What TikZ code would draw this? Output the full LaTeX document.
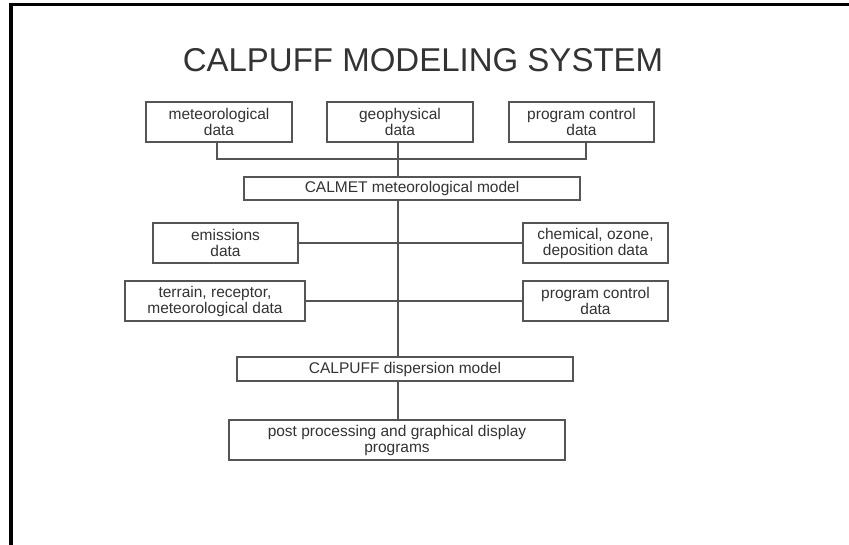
\documentclass[tikz,border=0pt]{standalone}
\usepackage{fontspec}
\setmainfont{Liberation Sans}
\definecolor{txt}{HTML}{333333}
\definecolor{edge}{HTML}{555555}
\begin{document}
\begin{tikzpicture}[x=1pt,y=-1pt,
  box/.style={draw=edge,fill=white,line width=1.3pt,text=txt,align=center,inner sep=0pt,
    font=\fontsize{15.5}{16}\selectfont},
  link/.style={draw=edge,line width=1.3pt}]
\useasboundingbox (0,0) rectangle (849,545);
\fill[white] (0,0) rectangle (849,545);
\draw[line width=3.6pt] (11,545) -- (11,4.6) -- (849,4.6);
\node[text=txt,font=\fontsize{33}{38}\selectfont] (title) at (423,60) {CALPUFF MODELING SYSTEM};
\node[box,minimum width=146pt,minimum height=40pt] (met) at (219,122) {meteorological\\data};
\node[box,minimum width=146pt,minimum height=40pt] (geo) at (400,122) {geophysical\\data};
\node[box,minimum width=145pt,minimum height=40pt] (pc) at (581.5,122) {program control\\data};
\node[box,minimum width=336pt,minimum height=23pt] (calmet) at (412,188.5) {CALMET meteorological model};
\node[box,minimum width=145pt,minimum height=40pt] (emi) at (225.5,243) {emissions\\data};
\node[box,minimum width=145pt,minimum height=40pt] (chem) at (595.5,243) {chemical, ozone,\\deposition data};
\node[box,minimum width=180pt,minimum height=40pt] (ter) at (215,301) {terrain, receptor,\\meteorological data};
\node[box,minimum width=145pt,minimum height=40pt] (pc2) at (595.5,301) {program control\\data};
\node[box,minimum width=336pt,minimum height=24pt] (calpuff) at (405,369) {CALPUFF dispersion model};
\node[box,minimum width=336pt,minimum height=40pt] (post) at (397,440) {post processing and graphical display\\programs};
\coordinate (hl) at (217,159);
\coordinate (hr) at (586,159);
\coordinate (hm) at (398,159);
\draw[link] (met.south -| hl) -- (hl) -- (hr) -- (pc.south -| hr);
\draw[link] (geo.south -| hm) -- (hm) -- (calmet.north -| hm);
\draw[link] (calmet.south -| hm) -- (calpuff.north -| hm);
\draw[link] (emi.east) -- (chem.west);
\draw[link] (ter.east) -- (ter.east -| pc2.west);
\draw[link] (calpuff.south -| hm) -- (post.north -| hm);
\end{tikzpicture}
\end{document}
